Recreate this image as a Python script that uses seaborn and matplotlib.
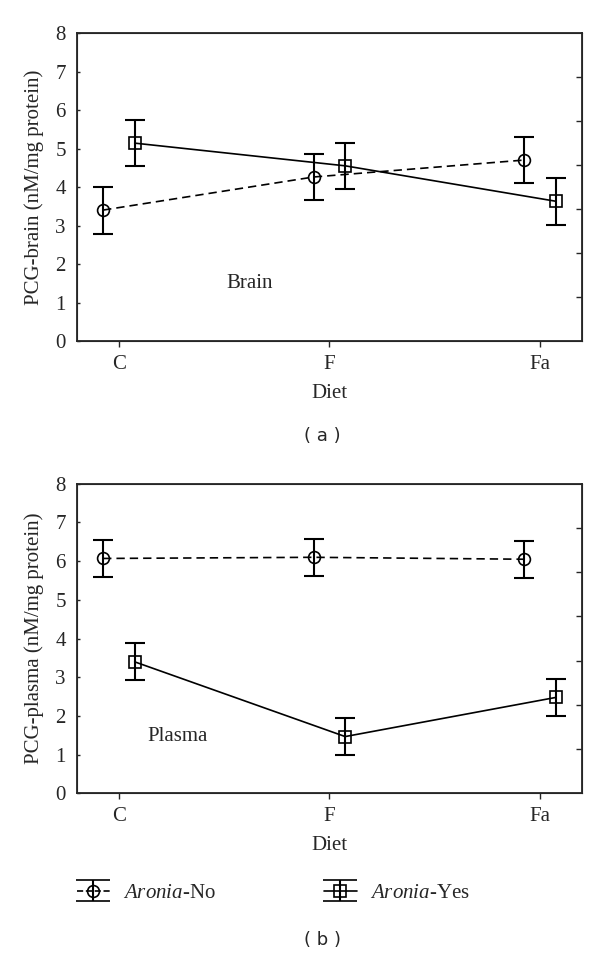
import numpy as np
import pandas as pd
import seaborn as sns
import matplotlib
matplotlib.use("Agg")
import matplotlib.pyplot as plt

sns.set_style("ticks")
plt.rcParams['font.family'] = ['Liberation Serif', 'DejaVu Serif']
plt.rcParams['mathtext.fontset'] = 'custom'
plt.rcParams['mathtext.rm'] = 'Liberation Serif'
plt.rcParams['mathtext.it'] = 'Liberation Serif:italic'

diets = ["C", "F", "Fa"]
groups = ["Aronia-No", "Aronia-Yes"]

# brain panel (a)
brain_no = [3.41, 4.27, 4.71]
brain_no_err = [0.61, 0.61, 0.60]
brain_yes = [5.15, 4.56, 3.64]
brain_yes_err = [0.60, 0.60, 0.61]

# plasma panel (b)
plasma_no = [6.07, 6.10, 6.05]
plasma_no_err = [0.47, 0.48, 0.48]
plasma_yes = [3.40, 1.47, 2.48]
plasma_yes_err = [0.48, 0.48, 0.47]

offset = {"Aronia-No": -0.075, "Aronia-Yes": 0.075}
marker = {"Aronia-No": "o", "Aronia-Yes": "s"}
dash = {"Aronia-No": (5, 3), "Aronia-Yes": ""}
FS = 15


def make_df(no, no_err, yes, yes_err):
    rows = []
    for g, vals, errs in [("Aronia-No", no, no_err), ("Aronia-Yes", yes, yes_err)]:
        for i, d in enumerate(diets):
            rows.append({"pos": i + offset[g], "diet": d, "group": g,
                         "value": vals[i], "err": errs[i]})
    return pd.DataFrame(rows)


def draw_panel(ax, df, ylabel, note, note_xy):
    sns.lineplot(data=df, x="pos", y="value", style="group", markers=marker,
                 dashes=dash, color="black", linewidth=1.2, markersize=8.5,
                 markerfacecolor="none", markeredgecolor="black",
                 markeredgewidth=1.2, legend=False, ax=ax)
    for g in groups:
        sub = df[df["group"] == g]
        ax.errorbar(sub["pos"], sub["value"], yerr=sub["err"], fmt="none",
                    ecolor="black", elinewidth=1.5, capsize=7.5, capthick=1.5)
    # empty errorbars used only as legend handles
    handles = {}
    for g in groups:
        handles[g] = ax.errorbar([np.nan], [np.nan], yerr=[1.0], fmt=marker[g],
                                 ls="--" if g == "Aronia-No" else "-", lw=1.2,
                                 mfc="none", mec="black", ms=8.5, mew=1.2, color="black",
                                 ecolor="black", elinewidth=1.5, capsize=12, capthick=1.5)
    ax.set_xlim(-0.2, 2.2)
    ax.set_ylim(0, 8)
    ax.set_xticks(range(len(diets)))
    ax.set_xticklabels(diets)
    ax.set_yticks(range(0, 9))
    ax.set_xlabel("Diet", fontsize=FS, labelpad=7)
    ax.set_ylabel(ylabel, fontsize=FS, labelpad=8)
    ax.tick_params(axis="x", direction="out", length=4, width=1, labelsize=FS, pad=6)
    ax.tick_params(axis="y", direction="in", length=2, width=1, labelsize=FS, pad=8)
    for s in ax.spines.values():
        s.set_linewidth(1.3)
        s.set_visible(True)
    ax.text(note_xy[0], note_xy[1], note, fontsize=FS, ha="center", va="center")
    tw = ax.twinx()
    tw.set_ylim(0, 7)
    tw.set_yticks(range(1, 7))
    tw.set_yticklabels([])
    tw.tick_params(axis="y", direction="in", length=4, width=1)
    return handles


fig = plt.figure(figsize=(6, 9.56), dpi=100)
ax1 = fig.add_axes([0.128, 0.643, 0.842, 0.322])
ax2 = fig.add_axes([0.128, 0.170, 0.842, 0.324])

draw_panel(ax1, make_df(brain_no, brain_no_err, brain_yes, brain_yes_err),
           "PCG-brain (nM/mg protein)", "Brain", (0.62, 1.5))
handles = draw_panel(ax2, make_df(plasma_no, plasma_no_err, plasma_yes, plasma_yes_err),
                     "PCG-plasma (nM/mg protein)", "Plasma", (0.28, 1.47))

fig.text(0.538, 1 - 436 / 956, "( a )", family="DejaVu Sans", fontsize=13,
         ha="center", va="center")
fig.text(0.538, 1 - 940 / 956, "( b )", family="DejaVu Sans", fontsize=13,
         ha="center", va="center")

leg = fig.legend([handles["Aronia-No"], handles["Aronia-Yes"]],
                 [r"$\it{Aronia}$-No", r"$\it{Aronia}$-Yes"],
                 loc="center left", bbox_to_anchor=(0.128, 1 - 893 / 956), ncol=2,
                 frameon=False, fontsize=FS, handlelength=1.6, columnspacing=5.2,
                 handletextpad=0.6, borderpad=0, borderaxespad=0)

fig.savefig("out.png", dpi=100)
